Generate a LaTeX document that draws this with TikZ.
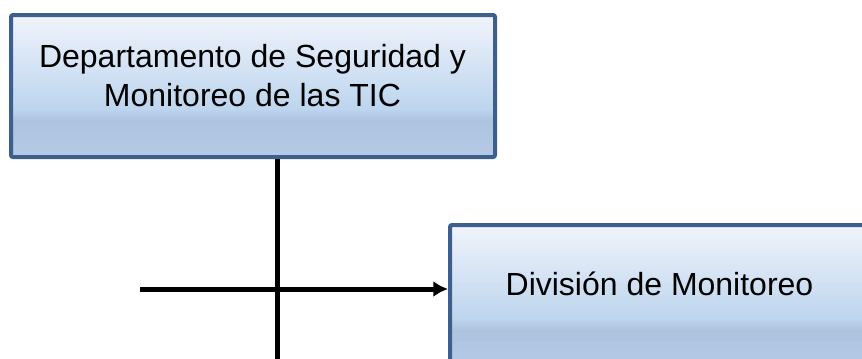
\documentclass[tikz,border=0pt]{standalone}
\usepackage{fontspec}
\setmainfont{Liberation Sans}
\usetikzlibrary{arrows.meta}
\definecolor{boxBorder}{HTML}{3D5F8D}
\definecolor{boxTop}{HTML}{F0F4FB}
\definecolor{boxMid}{HTML}{BDD5EE}
\definecolor{boxBand}{HTML}{AEC3DF}
\definecolor{boxLow}{HTML}{B5CAE5}
\pgfdeclareverticalshading{orgshade}{100bp}{color(0bp)=(boxLow); color(25bp)=(boxLow); color(38bp)=(boxBand); color(42bp)=(boxMid); color(75bp)=(boxTop); color(100bp)=(boxTop)}

\begin{document}
\begin{tikzpicture}[x=0.75pt, y=-0.75pt, >={Latex[length=11pt,width=12pt]},
    orgbox/.style={draw=boxBorder, line width=3pt, rounded corners=1.5pt,
        shading=orgshade, minimum width=363pt, minimum height=106.5pt},
    orgtext/.style={align=center, anchor=base, inner sep=0pt,
        font=\fontsize{24pt}{29.25pt}\selectfont},
    link/.style={line width=3.75pt, black}]

    \useasboundingbox (0,0) rectangle (862,358);
    \clip (0,0) rectangle (862,358);

    % boxes
    \node[orgbox] (dept) at (253,86) {};
    \node[orgtext] (deptlabel) at (252.5,106) {Departamento de Seguridad y\\Monitoreo de las TIC};

    \node[orgbox] (div) at (692,296) {};
    \node[orgtext] (divlabel) at (659.5,295) {División de Monitoreo};

    % connectors
    \coordinate (trunktop) at (277,159);
    \coordinate (trunkend) at (277,370);
    \coordinate (feed) at (140,289);

    \draw[link] (trunktop) -- (trunkend);
    \draw[link, ->] (feed) -- (feed -| div.west);

\end{tikzpicture}
\end{document}
